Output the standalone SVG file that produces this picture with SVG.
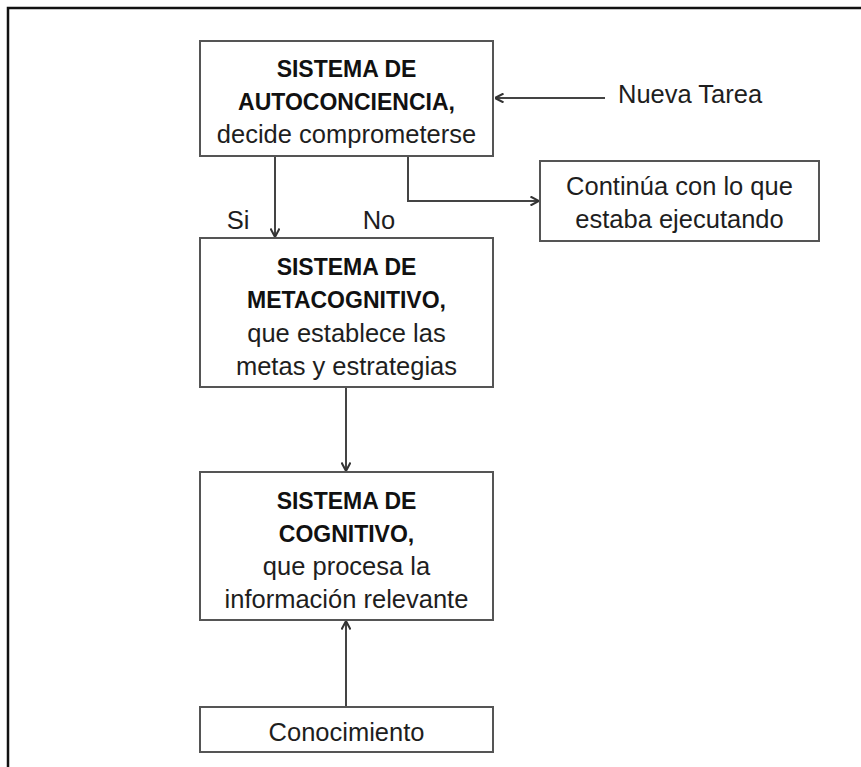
<svg xmlns="http://www.w3.org/2000/svg" width="861" height="767" viewBox="0 0 861 767">
<style>
.box{fill:#fff;stroke:#555;stroke-width:2}
.t{font-family:"Liberation Sans",Arial,sans-serif;font-size:25.5px;fill:#1e1e1e;text-anchor:middle}
.b{font-family:"Liberation Sans",Arial,sans-serif;font-size:23px;font-weight:bold;fill:#111;text-anchor:middle}
.c{fill:none;stroke:#444;stroke-width:2}
</style>
<defs>
<marker id="arr" viewBox="0 0 10 10" refX="9.5" refY="5" markerWidth="10" markerHeight="10" markerUnits="userSpaceOnUse" orient="auto">
<path d="M1,0.5 L9.5,5 L1,9.5" fill="none" stroke="#333" stroke-width="2"/>
</marker>
</defs>
<rect width="861" height="767" fill="#fff"/>
<path d="M8,767 V8 H861" fill="none" stroke="#111" stroke-width="2.5"/>
<g id="connectors">
<path class="c" d="M605,98 H495" marker-end="url(#arr)"/>
<path class="c" d="M275,156 V237" marker-end="url(#arr)"/>
<path class="c" d="M408,156 V201 H539" marker-end="url(#arr)"/>
<path class="c" d="M346,387 V471" marker-end="url(#arr)"/>
<path class="c" d="M346,707 V621" marker-end="url(#arr)"/>
<text class="t" x="238" y="229">Si</text>
<text class="t" x="379" y="229">No</text>
</g>
<g id="autoconciencia">
<rect class="box" x="200" y="41" width="293" height="115"/>
<text class="b" x="346.5" y="77">SISTEMA DE</text>
<text class="b" x="346.5" y="110">AUTOCONCIENCIA,</text>
<text class="t" x="346.5" y="143">decide comprometerse</text>
</g>
<g id="nueva-tarea">
<text class="t" x="618" y="103" style="text-anchor:start">Nueva Tarea</text>
</g>
<g id="continua">
<rect class="box" x="540" y="161" width="279" height="80"/>
<text class="t" x="679.5" y="195">Continúa con lo que</text>
<text class="t" x="679.5" y="228">estaba ejecutando</text>
</g>
<g id="metacognitivo">
<rect class="box" x="200" y="238" width="293" height="149"/>
<text class="b" x="346.5" y="275">SISTEMA DE</text>
<text class="b" x="346.5" y="308">METACOGNITIVO,</text>
<text class="t" x="346.5" y="342">que establece las</text>
<text class="t" x="346.5" y="375">metas y estrategias</text>
</g>
<g id="cognitivo">
<rect class="box" x="200" y="472" width="293" height="148"/>
<text class="b" x="346.5" y="509">SISTEMA DE</text>
<text class="b" x="346.5" y="542">COGNITIVO,</text>
<text class="t" x="346.5" y="575">que procesa la</text>
<text class="t" x="346.5" y="608">información relevante</text>
</g>
<g id="conocimiento">
<rect class="box" x="200" y="707" width="293" height="45"/>
<text class="t" x="346.5" y="741">Conocimiento</text>
</g>
</svg>
